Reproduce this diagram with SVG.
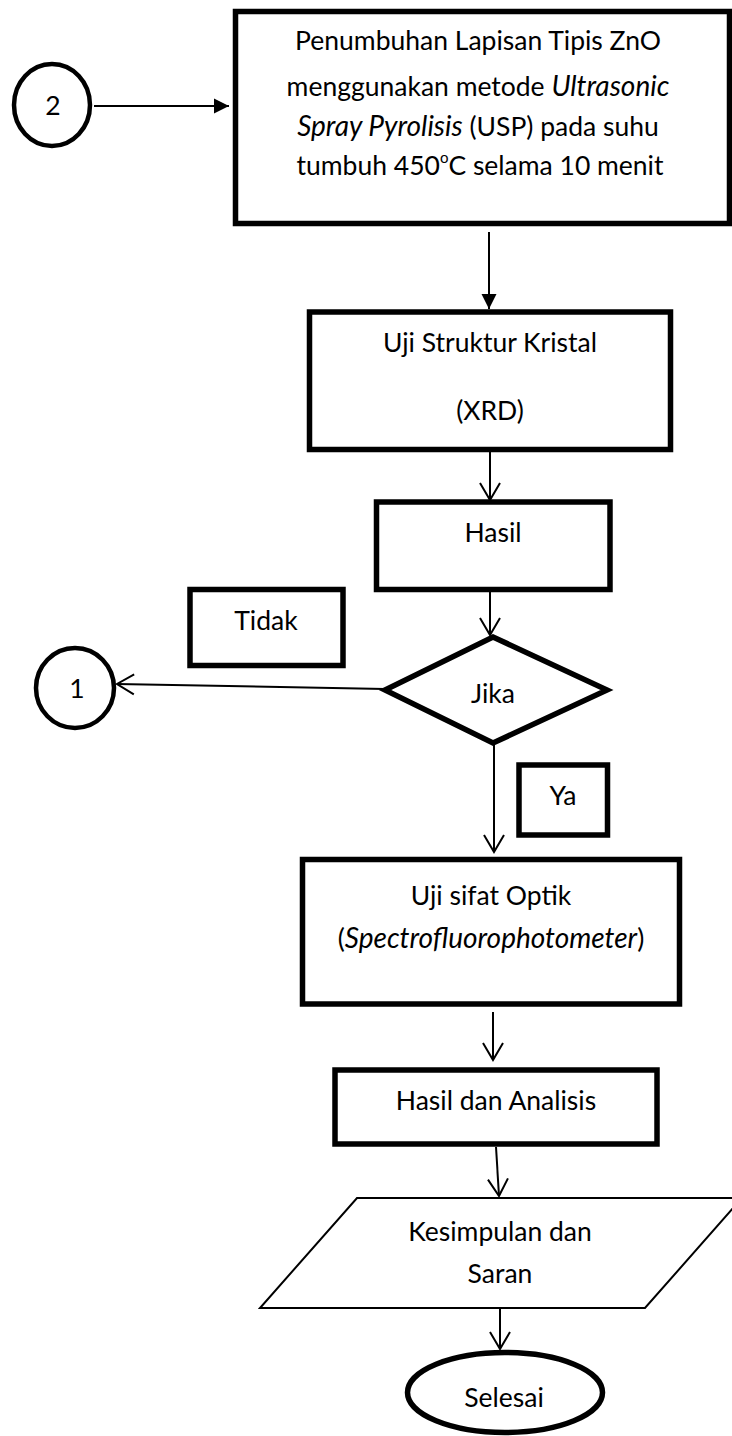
<svg xmlns="http://www.w3.org/2000/svg" width="732" height="1436" viewBox="0 0 732 1436">
<style>
.box{fill:#fff;stroke:#000;stroke-width:5.5}
.thin{fill:#fff;stroke:#000;stroke-width:2}
.circ{fill:#fff;stroke:#000;stroke-width:4.5}
.t{font-family:Lato,"Liberation Sans",sans-serif;font-size:26.5px;fill:#000;text-anchor:middle}
.i{font-style:italic;font-size:28px}
.conn{fill:none;stroke:#000;stroke-width:2}
</style>
<defs>
<marker id="fill" markerUnits="userSpaceOnUse" markerWidth="20" markerHeight="20" viewBox="-16 -10 18 20" refX="0" refY="0" orient="auto" style="overflow:visible">
<path d="M-15,-7.5 L0,0 L-15,7.5 Z" fill="#000"/>
</marker>
<marker id="open" markerUnits="userSpaceOnUse" markerWidth="24" markerHeight="24" viewBox="-20 -12 22 24" refX="0" refY="0" orient="auto" style="overflow:visible">
<path d="M-17,-10 L0,0 L-17,10" fill="none" stroke="#000" stroke-width="2"/>
</marker>
</defs>

<g id="connectors">
<line class="conn" x1="94" y1="106" x2="229" y2="106" marker-end="url(#fill)"/>
<line class="conn" x1="489" y1="232" x2="489" y2="309" marker-end="url(#fill)"/>
<line class="conn" x1="490" y1="452" x2="490" y2="500" marker-end="url(#open)"/>
<line class="conn" x1="490" y1="592" x2="490" y2="635" marker-end="url(#open)"/>
<line class="conn" x1="385" y1="689" x2="117" y2="684" marker-end="url(#open)"/>
<line class="conn" x1="494" y1="745" x2="494" y2="852" marker-end="url(#open)"/>
<line class="conn" x1="493" y1="1012" x2="493" y2="1060" marker-end="url(#open)"/>
<line class="conn" x1="496" y1="1147" x2="499" y2="1196" marker-end="url(#open)"/>
<line class="conn" x1="500" y1="1309" x2="500" y2="1349" marker-end="url(#open)"/>
</g>

<g id="node-2">
<ellipse class="circ" cx="52" cy="105" rx="38" ry="41"/>
<text class="t" x="53" y="115">2</text>
</g>

<g id="node-penumbuhan">
<rect class="box" x="235.5" y="11.5" width="494" height="212"/>
<text class="t" x="478" y="50">Penumbuhan Lapisan Tipis ZnO</text>
<text class="t" x="478" y="96">menggunakan metode <tspan class="i">Ultrasonic</tspan></text>
<text class="t" x="478" y="136"><tspan class="i">Spray Pyrolisis</tspan> (USP) pada suhu</text>
<text class="t" x="480" y="175">tumbuh 450<tspan font-size="15" dy="-12">o</tspan><tspan dy="12">C selama 10 menit</tspan></text>
</g>

<g id="node-xrd">
<rect class="box" x="309.5" y="312" width="361" height="137.5"/>
<text class="t" x="490" y="352">Uji Struktur Kristal</text>
<text class="t" x="490" y="420">(XRD)</text>
</g>

<g id="node-hasil">
<rect class="box" x="376.5" y="502" width="233.5" height="87.5"/>
<text class="t" x="493" y="542">Hasil</text>
</g>

<g id="node-tidak">
<rect class="box" x="190" y="589.5" width="153" height="76"/>
<text class="t" x="266" y="630">Tidak</text>
</g>

<g id="node-1">
<ellipse class="circ" cx="75" cy="688" rx="39" ry="40"/>
<text class="t" x="77" y="698">1</text>
</g>

<g id="node-jika">
<polygon class="box" points="493,637 607,690 493,743 385,690"/>
<text class="t" x="493" y="703">Jika</text>
</g>

<g id="node-ya">
<rect class="box" x="519" y="765" width="88.5" height="70"/>
<text class="t" x="563" y="805">Ya</text>
</g>

<g id="node-optik">
<rect class="box" x="302.5" y="859.5" width="377" height="144.5"/>
<text class="t" x="491" y="905">Uji sifat Optik</text>
<text class="t" x="491" y="948">(<tspan class="i">Spectrofluorophotometer</tspan>)</text>
</g>

<g id="node-analisis">
<rect class="box" x="335" y="1070" width="322" height="74"/>
<text class="t" x="496" y="1110">Hasil dan Analisis</text>
</g>

<g id="node-kesimpulan">
<polygon class="thin" points="357,1198 742,1198 645,1308 260,1308"/>
<text class="t" x="500" y="1241">Kesimpulan dan</text>
<text class="t" x="500" y="1283">Saran</text>
</g>

<g id="node-selesai">
<ellipse class="box" cx="505" cy="1392.5" rx="97.5" ry="40"/>
<text class="t" x="504" y="1407">Selesai</text>
</g>
</svg>
